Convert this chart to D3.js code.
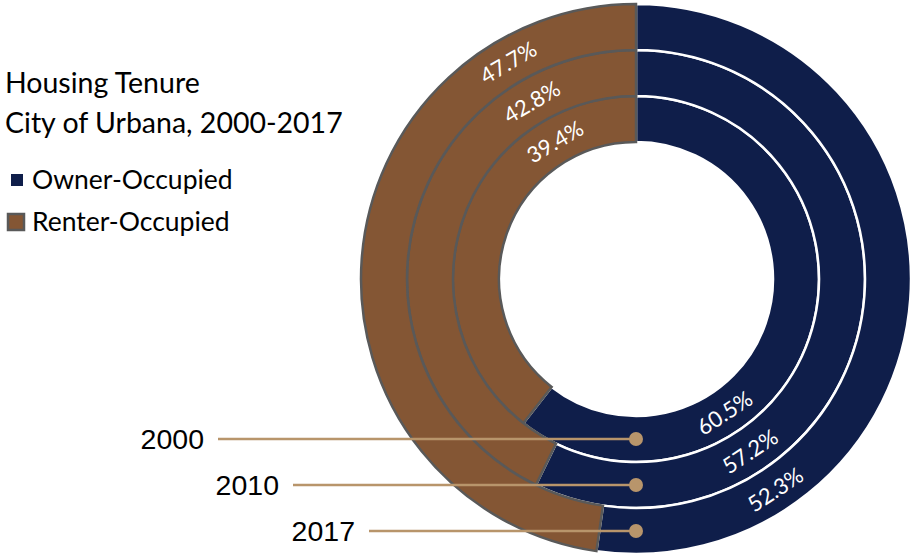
<!DOCTYPE html>
<html>
<head>
<meta charset="utf-8">
<script src="https://cdn.jsdelivr.net/npm/d3@7"></script>
<style>
  html, body { margin: 0; padding: 0; background: #fff; }
  svg { display: block; }
</style>
</head>
<body>
<svg id="chart" width="910" height="554"></svg>
<script>
// Housing tenure shares, innermost ring first
const years = ["2000", "2010", "2017"];
const ownerShare = [60.5, 57.2, 52.3];
const renterShare = [39.4, 42.8, 47.7];
const seriesNames = ["Owner-Occupied", "Renter-Occupied"];
const titleLines = ["Housing Tenure", "City of Urbana, 2000-2017"];

const W = 910, H = 554;
const cx = 636, cy = 279;
const holeR = 137, ringW = 46;
const colors = { owner: "#0f1e4a", renter: "#845634", renterStroke: "#595959", leader: "#b8956b" };

const svg = d3.select("#chart");
const g = svg.append("g").attr("transform", `translate(${cx},${cy})`);

// one ring per year: owner share runs clockwise from 12 o'clock, renter fills the rest
const pie = d3.pie().sort(null).value(d => d.value);
const ringScale = d3.scaleBand().domain(years).range([holeR, holeR + ringW * years.length]).paddingInner(0);

const rings = years.map((y, i) => ({
  year: y,
  inner: ringScale(y),
  outer: ringScale(y) + ringScale.bandwidth(),
  slices: pie([
    { key: "owner", value: ownerShare[i] },
    { key: "renter", value: renterShare[i] }
  ])
}));

// owner arcs first (white separators), renter arcs on top (grey outline)
["owner", "renter"].forEach(key => {
  rings.forEach(r => {
    const s = r.slices.find(d => d.data.key === key);
    const arc = d3.arc().innerRadius(r.inner).outerRadius(r.outer);
    g.append("path")
      .attr("d", arc(s))
      .attr("fill", colors[key])
      .attr("stroke", key === "owner" ? "#ffffff" : colors.renterStroke)
      .attr("stroke-width", 2.5)
      .attr("stroke-linejoin", "miter");
  });
});

// year leader lines ending in a dot at the bottom of each ring
const leaderStart = [218, 293, 369];
rings.forEach((r, i) => {
  const mid = (r.inner + r.outer) / 2;
  g.append("line")
    .attr("x1", leaderStart[i] - cx).attr("y1", mid)
    .attr("x2", 0).attr("y2", mid)
    .attr("stroke", colors.leader).attr("stroke-width", 2.5);
  g.append("circle")
    .attr("cx", 0).attr("cy", mid).attr("r", 7)
    .attr("fill", colors.leader);
  svg.append("text")
    .attr("x", leaderStart[i] - 14).attr("y", cy + mid + 10)
    .attr("text-anchor", "end")
    .attr("font-family", "'Liberation Sans', Arial, sans-serif")
    .attr("font-size", 28.5)
    .attr("fill", "#000")
    .text(r.year);
});

// percentage labels written along the ring
const labelAngle = { owner: 146.5, renter: 329.5 };
rings.forEach(r => {
  const mid = (r.inner + r.outer) / 2;
  r.slices.forEach(s => {
    const deg = labelAngle[s.data.key];
    const rad = deg * Math.PI / 180;
    const x = Math.sin(rad) * mid, y = -Math.cos(rad) * mid;
    const rot = deg > 180 ? deg - 360 : deg - 180;
    g.append("text")
      .attr("transform", `translate(${x},${y}) rotate(${rot})`)
      .attr("text-anchor", "middle")
      .attr("dominant-baseline", "central")
      .attr("font-family", "Lato, 'Open Sans', sans-serif")
      .attr("font-size", 22)
      .attr("fill", "#fff")
      .text(d3.format(".1f")(s.data.value) + "%");
  });
});

// title
svg.append("g").selectAll("text").data(titleLines).join("text")
  .attr("x", 5).attr("y", (d, i) => 93 + i * 40)
  .attr("font-family", "Lato, 'Open Sans', sans-serif")
  .attr("font-size", 28.5)
  .attr("fill", "#000")
  .text(d => d);

// legend
const legend = svg.append("g");
legend.append("rect").attr("x", 11).attr("y", 174).attr("width", 12).attr("height", 12).attr("fill", colors.owner);
legend.append("rect").attr("x", 8).attr("y", 214).attr("width", 16).attr("height", 16)
  .attr("fill", colors.renter).attr("stroke", colors.renterStroke).attr("stroke-width", 2.5);
legend.selectAll("text.lg").data(seriesNames).join("text")
  .attr("class", "lg")
  .attr("x", 32).attr("y", (d, i) => 189 + i * 42)
  .attr("font-family", "Lato, 'Open Sans', sans-serif")
  .attr("font-size", 26.5)
  .attr("fill", "#000")
  .text(d => d);
</script>
</body>
</html>
